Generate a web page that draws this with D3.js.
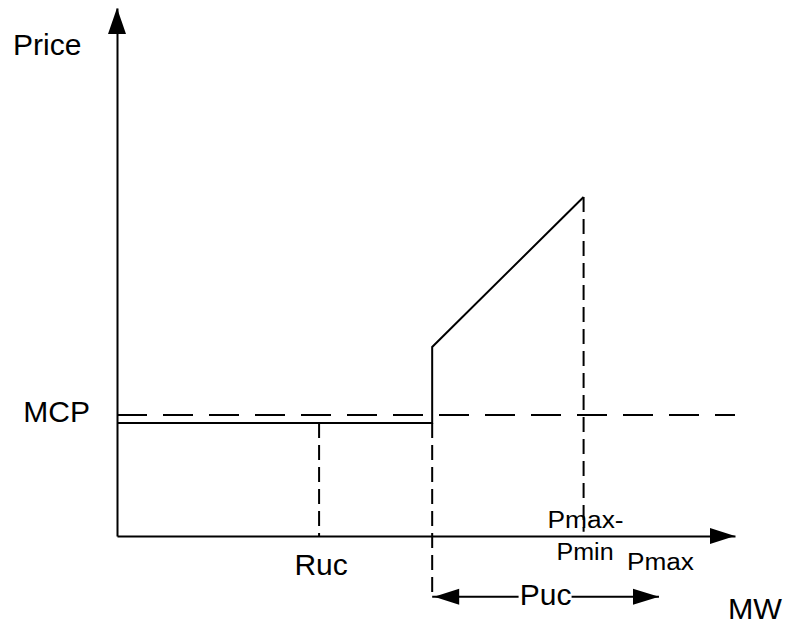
<!DOCTYPE html>
<html>
<head>
<meta charset="utf-8">
<script src="https://cdn.jsdelivr.net/npm/d3@7"></script>
<style>
  body { margin: 0; background: #fff; }
  text { font-family: "Liberation Sans", Arial, sans-serif; fill: #000; }
</style>
</head>
<body>
<div id="chart"></div>
<script>
// values in chart units (MW 0..100, price 0..100)
const bidX = [0, 51, 51, 75.5];
const bidY = [21.4, 21.4, 35.8, 64.2];
const mcpLevel = 22.9;
const rucX = 32.7;
const stepX = 51;
const pmaxMinX = 75.5;
const pmaxX = 87.7;
const pucY = -11.5;
const axisMax = [100, 100];

const svg = d3.select("#chart")
    .append("svg")
    .attr("width", 785)
    .attr("height", 626);

const x = d3.scaleLinear().domain([0, axisMax[0]]).range([117, 735]);
const y = d3.scaleLinear().domain([0, axisMax[1]]).range([536, 8]);

// axes without ticks
svg.append("g")
    .attr("transform", "translate(0," + y(0) + ")")
    .call(d3.axisBottom(x).tickValues([]).tickSizeOuter(0))
    .select(".domain").attr("stroke", "#000").attr("stroke-width", 2);
svg.append("g")
    .attr("transform", "translate(" + x(0) + ",0)")
    .call(d3.axisLeft(y).tickValues([]).tickSizeOuter(0))
    .select(".domain").attr("stroke", "#000").attr("stroke-width", 2);

// arrow heads
svg.append("path")
    .attr("d", "M" + x(0) + "," + y(axisMax[1]) + " L" + (x(0) - 9) + "," + (y(axisMax[1]) + 26) + " L" + (x(0) + 9) + "," + (y(axisMax[1]) + 26) + "Z")
    .attr("fill", "#000");
svg.append("path")
    .attr("d", "M" + x(axisMax[0]) + "," + y(0) + " L" + (x(axisMax[0]) - 25) + "," + (y(0) - 8) + " L" + (x(axisMax[0]) - 25) + "," + (y(0) + 8) + "Z")
    .attr("fill", "#000");

// MCP dashed line
svg.append("line")
    .attr("x1", x(0)).attr("x2", x(axisMax[0]))
    .attr("y1", y(mcpLevel)).attr("y2", y(mcpLevel))
    .attr("stroke", "#000").attr("stroke-width", 2)
    .attr("stroke-dasharray", "30,16");

// vertical dashed guides
const guides = [
    { x: rucX, y1: bidY[0], y2: 0 },
    { x: stepX, y1: bidY[1], y2: pucY },
    { x: pmaxMinX, y1: bidY[3], y2: 0.8 }
];
svg.append("g")
    .selectAll("line")
    .data(guides)
    .join("line")
    .attr("x1", d => x(d.x)).attr("x2", d => x(d.x))
    .attr("y1", d => y(d.y1)).attr("y2", d => y(d.y2))
    .attr("stroke", "#000").attr("stroke-width", 2)
    .attr("stroke-dasharray", "15,7");

// bid curve
const line = d3.line().x(d => x(d[0])).y(d => y(d[1]));
svg.append("path")
    .datum(bidX.map((v, i) => [v, bidY[i]]))
    .attr("d", line)
    .attr("fill", "none")
    .attr("stroke", "#000")
    .attr("stroke-width", 2);

// Puc double arrow
svg.append("line")
    .attr("x1", x(stepX)).attr("x2", x(pmaxX))
    .attr("y1", y(pucY)).attr("y2", y(pucY))
    .attr("stroke", "#000").attr("stroke-width", 2);
svg.append("path")
    .attr("d", "M" + (x(stepX) + 2) + "," + y(pucY) + " L" + (x(stepX) + 27) + "," + (y(pucY) - 8) + " L" + (x(stepX) + 27) + "," + (y(pucY) + 8) + "Z")
    .attr("fill", "#000");
svg.append("path")
    .attr("d", "M" + x(pmaxX) + "," + y(pucY) + " L" + (x(pmaxX) - 26) + "," + (y(pucY) - 8) + " L" + (x(pmaxX) - 26) + "," + (y(pucY) + 8) + "Z")
    .attr("fill", "#000");
const pucMid = (x(stepX) + x(pmaxX)) / 2;
svg.append("rect")
    .attr("x", pucMid - 27).attr("y", y(pucY) - 12)
    .attr("width", 53).attr("height", 24)
    .attr("fill", "#fff");
svg.append("text").attr("x", pucMid).attr("y", y(pucY) + 8)
    .attr("text-anchor", "middle").style("font-size", "30px").text("Puc");

// labels
svg.append("text").attr("x", 13).attr("y", 55).style("font-size", "30px").text("Price");
svg.append("text").attr("x", x(0) - 27).attr("y", y(mcpLevel) + 7)
    .attr("text-anchor", "end").style("font-size", "30px").text("MCP");
svg.append("text").attr("x", x(rucX) + 2).attr("y", 575)
    .attr("text-anchor", "middle").style("font-size", "30px").text("Ruc");
svg.append("text").attr("x", 782).attr("y", 619)
    .attr("text-anchor", "end").style("font-size", "29px")
    .attr("textLength", 54).attr("lengthAdjust", "spacingAndGlyphs").text("MW");

svg.append("text").attr("x", x(pmaxMinX) - 36).attr("y", 528)
    .style("font-size", "23px").attr("textLength", 76).attr("lengthAdjust", "spacingAndGlyphs").text("Pmax-");
svg.append("text").attr("x", x(pmaxMinX) - 27).attr("y", 560)
    .style("font-size", "23px").attr("textLength", 57).attr("lengthAdjust", "spacingAndGlyphs").text("Pmin");
svg.append("text").attr("x", x(pmaxX) - 32).attr("y", 570)
    .style("font-size", "23px").attr("textLength", 67).attr("lengthAdjust", "spacingAndGlyphs").text("Pmax");
</script>
</body>
</html>
